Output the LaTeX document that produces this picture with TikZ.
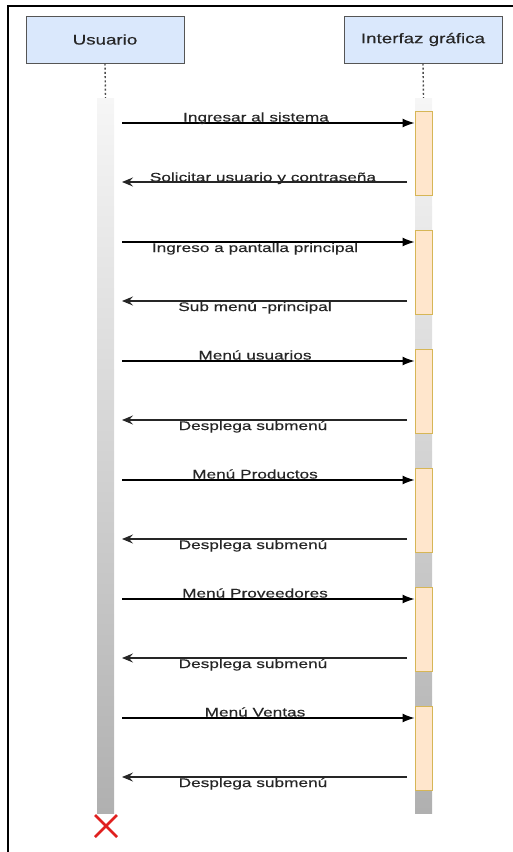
\documentclass[tikz,border=0pt]{standalone}
\usepackage{fontspec}
\setmainfont{Liberation Sans}
\newfontfamily\msgfont[FakeStretch=1.38,FakeBold=0.4]{Liberation Sans}
\newfontfamily\hdrfont[FakeStretch=1.34,FakeBold=0.3]{Liberation Sans}
\usetikzlibrary{arrows.meta}
\definecolor{hdrfill}{HTML}{DAE8FC}
\definecolor{hdrline}{HTML}{555555}
\definecolor{actfill}{HTML}{FFE6CC}
\definecolor{actline}{HTML}{D6B656}
\definecolor{txtgray}{HTML}{262626}
\definecolor{xred}{HTML}{E0201F}
\tikzset{
  header/.style={draw=hdrline, line width=1pt, fill=hdrfill, minimum width=158pt,
    minimum height=47pt, inner sep=0pt, text=txtgray,
    font=\hdrfont\fontsize{14}{16}\selectfont},
  lifeline/.style={draw=black!70, line width=1.4pt, dash pattern=on 2pt off 2.2pt},
  bar/.style={rectangle, draw=none, minimum width=17pt, minimum height=715pt,
    inner sep=0pt, top color=gray!7, bottom color=gray!62},
  act/.style={rectangle, draw=actline, line width=1pt, fill=actfill,
    minimum width=17pt, inner sep=0pt},
  callmsg/.style={draw=black, line width=1.2pt, -{Latex[length=12pt,width=9pt]}},
  replymsg/.style={draw=black!85, line width=1.2pt, -{Stealth[length=11pt,width=9pt,inset=4pt]}},
  lbl/.style={inner sep=0pt, anchor=base, text=txtgray,
    font=\msgfont\fontsize{12.5}{14}\selectfont},
  frameline/.style={draw=black, line width=2.2pt}
}
\begin{document}
\begin{tikzpicture}[x=1pt, y=-1pt]
  \useasboundingbox (0,0) rectangle (513,852);
  % outer frame (top and left edges)
  \coordinate (fTL) at (8,6);
  \coordinate (fTR) at (513,6);
  \coordinate (fBL) at (8,852);
  \draw[frameline] (fTR) -- (fTL) -- (fBL);

  % participants
  \node[header] (usr) at (105,39.5) {Usuario};
  \node[header] (gui) at (423,39.5) {Interfaz gráfica};

  % lifeline bars
  \node[bar] (usrbar) at (105.5,455.5) {};
  \node[bar] (guibar) at (423.5,455.5) {};
  \draw[lifeline] (usr.south) -- (usrbar.north);
  \draw[lifeline] (gui.south) -- (guibar.north);

  % activations on the interface lifeline
  \foreach \k in {1,...,6} {
    \node[act, minimum height=84pt] (act\k) at (423.5,{153+119*(\k-1)}) {};
  }

  % request / response pairs
  \foreach \k/\req/\rx/\resp/\sx/\below in {
      1/Ingresar al sistema/256/Solicitar usuario y contraseña/263/0,
      2/Ingreso a pantalla principal/255/Sub menú -principal/255/1,
      3/Menú usuarios/255/Desplega submenú/253/1,
      4/Menú Productos/255/Desplega submenú/253/1,
      5/Menú Proveedores/255/Desplega submenú/253/1,
      6/Menú Ventas/255/Desplega submenú/253/1} {
    \coordinate (rq\k) at (122,{123+119*(\k-1)});
    \coordinate (rs\k) at (122,{182+119*(\k-1)});
    \coordinate (rsstart\k) at (407,{182+119*(\k-1)});
    \draw[callmsg] (rq\k) -- (act\k.west |- rq\k);
    \draw[replymsg] (rsstart\k) -- (rs\k);
    \ifnum\k=2
      \node[lbl] (rqlbl\k) at (\rx,{123+119*(\k-1)+10}) {\req};
    \else
      \node[lbl] (rqlbl\k) at (\rx,{123+119*(\k-1)-1.5}) {\req};
    \fi
    \ifnum\below=1
      \node[lbl] (rslbl\k) at (\sx,{182+119*(\k-1)+10}) {\resp};
    \else
      \node[lbl] (rslbl\k) at (\sx,{182+119*(\k-1)-0.5}) {\resp};
    \fi
  }

  % destruction mark
  \coordinate (xc) at (106,826);
  \draw[xred, line width=2.6pt] ([shift={(-11,-11)}]xc) -- ([shift={(11,11)}]xc)
                                ([shift={(-11,11)}]xc) -- ([shift={(11,-11)}]xc);
\end{tikzpicture}
\end{document}
